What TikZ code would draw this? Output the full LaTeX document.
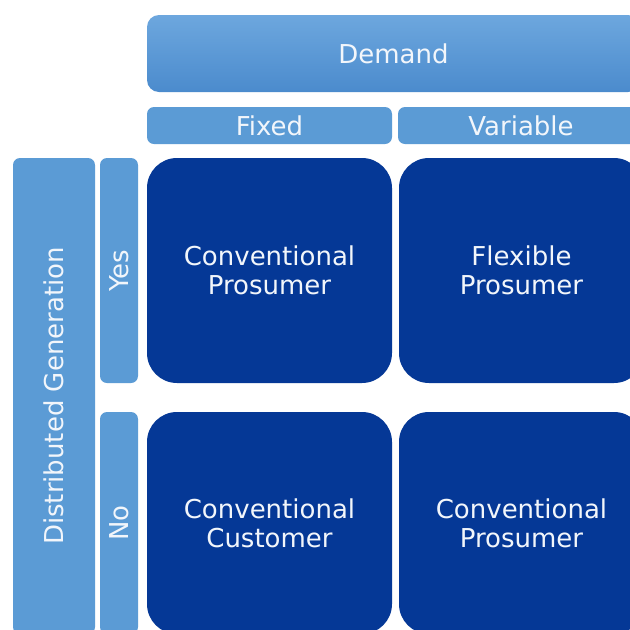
\documentclass[tikz,border=0pt]{standalone}
\usepackage{fontspec}
\setmainfont{DejaVu Sans}
\definecolor{lightb}{HTML}{5B9BD5}
\definecolor{lightbtop}{HTML}{6DA7DE}
\definecolor{lightbbot}{HTML}{4B8BCD}
\definecolor{darkb}{HTML}{053896}
\definecolor{txt}{HTML}{F2F6FB}
\begin{document}
\begin{tikzpicture}[x=1pt,y=-1pt,
  lab/.style={text=txt, font=\fontsize{26}{29}\selectfont, align=center, inner sep=0pt},
  lbox/.style={lab, fill=lightb, rounded corners=7pt},
  hbox/.style={lab, top color=lightbtop, bottom color=lightbbot, rounded corners=12pt},
  dbox/.style={lab, fill=darkb, rounded corners=30pt}]
\useasboundingbox (0,0) rectangle (630,630);
\clip (0,0) rectangle (630,630);
\fill[white] (0,0) rectangle (630,630);
% header
\node[hbox, minimum width=493pt, minimum height=77pt] (demand) at (393.5,53.5) {Demand};
\node[lbox, minimum width=245pt, minimum height=37pt] (fixed) at (269.5,125.5) {Fixed};
\node[lbox, minimum width=246pt, minimum height=37pt] (variable) at (521,125.5) {Variable};
% left column
\node[lbox, rotate=90, minimum width=476pt, minimum height=82pt] (dg) at (54,396) {Distributed Generation};
\node[lbox, rotate=90, minimum width=225pt, minimum height=38pt] (yes) at (119,270.5) {Yes};
\node[lbox, rotate=90, minimum width=222pt, minimum height=38pt] (no) at (119,523) {No};
% cells
\node[dbox, minimum width=245pt, minimum height=225pt] (cp1) at (269.5,270.5) {Conventional\\Prosumer};
\node[dbox, minimum width=245pt, minimum height=225pt] (fp) at (521.5,270.5) {Flexible\\Prosumer};
\node[dbox, minimum width=245pt, minimum height=222pt] (cc) at (269.5,523) {Conventional\\Customer};
\node[dbox, minimum width=245pt, minimum height=222pt] (cp2) at (521.5,523) {Conventional\\Prosumer};
\end{tikzpicture}
\end{document}
